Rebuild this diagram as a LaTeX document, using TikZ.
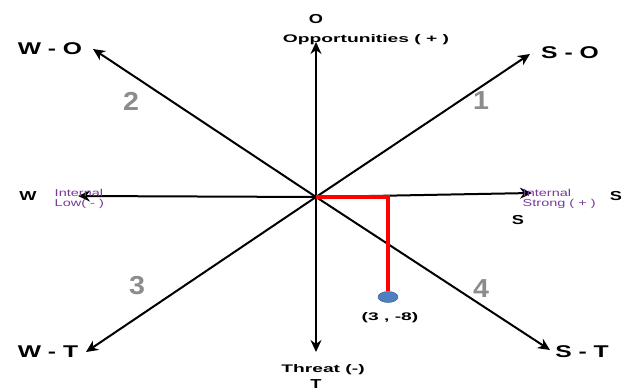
\documentclass[tikz,border=0pt]{standalone}
\usepackage{fontspec}
\setmainfont{Liberation Sans}
\usetikzlibrary{arrows.meta,shapes.geometric}
\definecolor{intpurple}{HTML}{7A3A9A}
\definecolor{numgray}{HTML}{8C8C8C}
\definecolor{dotblue}{HTML}{4F7FBF}
\begin{document}
\begin{tikzpicture}[x=1pt,y=-1pt,
  axis/.style={line width=2pt,-{Stealth[length=12pt,width=11pt]}},
  corner/.style={font=\bfseries\fontsize{17}{19}\selectfont,xscale=1.45},
  quad/.style={font=\bfseries\fontsize{26}{28}\selectfont,text=numgray,xscale=1.1},
  axlab/.style={font=\bfseries\fontsize{11}{13}\selectfont,xscale=1.75},
  letter/.style={font=\bfseries\fontsize{13}{15}\selectfont,xscale=1.4},
  internal/.style={font=\fontsize{10}{10}\selectfont,text=intpurple,align=left,xscale=1.45,inner sep=1pt}]
\useasboundingbox (0,0) rectangle (627,390);
\fill[white] (0,0) rectangle (627,390);
\coordinate (c) at (316,197);
\coordinate (up) at (316,42);
\coordinate (down) at (316,352);
\coordinate (left) at (78,196);
\coordinate (right) at (532,193);
\coordinate (wo) at (93,49);
\coordinate (so) at (530,54);
\coordinate (wt) at (86,352);
\coordinate (st) at (550,350);
\draw[axis] (c) -- (up);
\draw[axis] (c) -- (down);
\draw[axis] (c) -- (left);
\draw[axis] (c) -- (right);
\draw[axis] (c) -- (wo);
\draw[axis] (c) -- (so);
\draw[axis] (c) -- (wt);
\draw[axis] (c) -- (st);
\node[corner] (lwo) at (50,49) {W - O};
\node[corner] (lso) at (570,53) {S - O};
\node[corner] (lwt) at (48,352) {W - T};
\node[corner] (lst) at (582,352) {S - T};
\node[quad] (q1) at (481,101) {1};
\node[quad] (q2) at (131,101) {2};
\node[quad] (q3) at (137,286) {3};
\node[quad] (q4) at (481,289) {4};
\node[letter] (lo) at (316,19) {O};
\node[axlab] (opp) at (366,40) {Opportunities ( + )};
\node[axlab] (thr) at (323,370) {Threat (-)};
\node[letter] (lt) at (316,384) {T};
\node[letter] (lw) at (28,196) {W};
\node[internal,anchor=west] (il) at (53,199) {Internal\\Low( - )};
\node[internal,anchor=west] (is) at (521,199) {Internal\\Strong ( + )};
\node[letter] (ls1) at (616,196) {S};
\node[letter] (ls2) at (518,220) {S};
\coordinate (bend) at (388,197);
\node[ellipse,draw=dotblue!70!black,fill=dotblue,minimum width=20pt,minimum height=11pt,inner sep=0pt] (pt) at (388,297) {};
\draw[red,line width=4pt] (c) -- (bend) -- (pt.north);
\node[axlab] (ptl) at (390,318) {(3 , -8)};
\end{tikzpicture}
\end{document}
